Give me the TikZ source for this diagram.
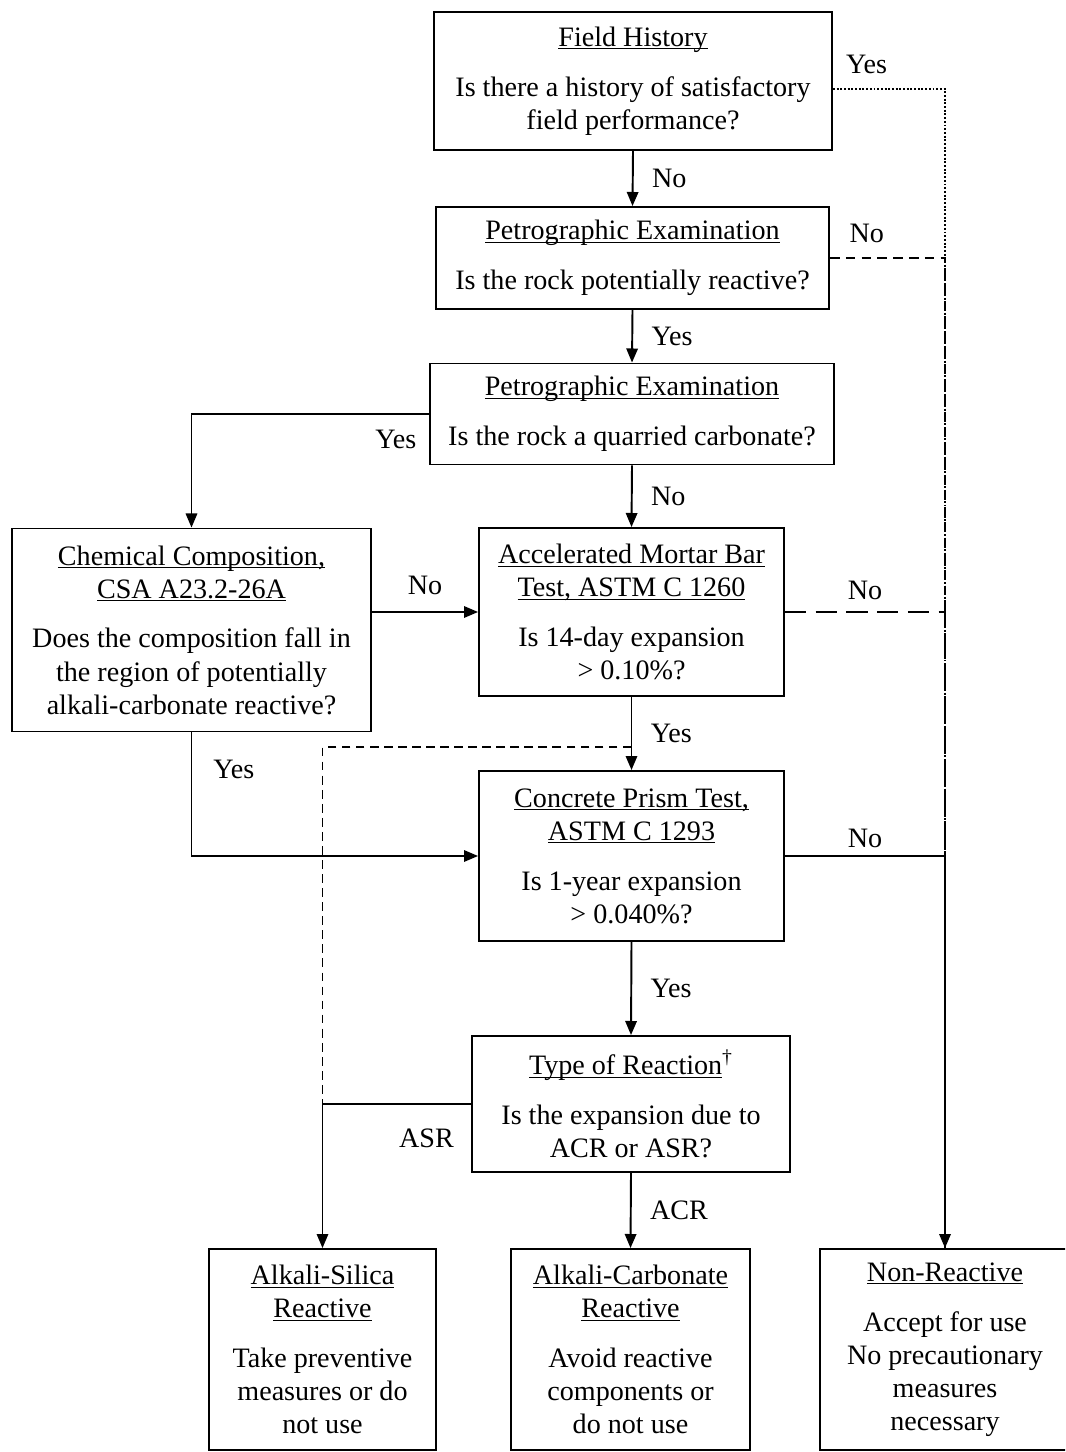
\documentclass[tikz,border=0pt]{standalone}
\usepackage{fontspec}
\setmainfont{Liberation Serif}
\usetikzlibrary{arrows.meta}
\usetikzlibrary{calc,positioning}
\newcommand\hdline[1]{$\underline{\smash{\hbox{#1}}}\vphantom{\hbox{#1}}$}

\begin{document}
\begin{tikzpicture}[x=0.02cm,y=-0.02cm]
  \tikzset{box/.style = {shape=rectangle,draw,line width=1.1pt,align=center,inner sep=0pt,font=\fontsize{16}{18.8}\selectfont}}
  \tikzset{lbl/.style = {font=\fontsize{16}{18.8}\selectfont}}
  \tikzset{tipA/.tip={Triangle[length=8pt,width=6.5pt]}}
  \tikzset{flow/.style = {line width=1.1pt,-tipA}}
  \tikzset{rail/.style = {line width=1.1pt}}

  \clip (0,0) rectangle (1065,1452);

	\node[box,minimum width=7.96cm,minimum height=2.76cm] (fh) at (633,81) {\hdline{Field History}\\[9.6pt]Is there a history of satisfactory\\field performance?};
	\node[box,minimum width=7.86cm,minimum height=2.04cm] (petroA) at (632.5,258) {\hdline{Petrographic Examination}\\[9.6pt]Is the rock potentially reactive?};
	\node[box,minimum width=8.08cm,minimum height=2.02cm] (petroB) at (632,414) {\hdline{Petrographic Examination}\\[9.6pt]Is the rock a quarried carbonate?};
	\node[box,minimum width=7.18cm,minimum height=4.06cm] (chem) at (191.5,630) {\hdline{Chemical Composition,}\\\hdline{CSA A23.2-26A}\\[9.6pt]Does the composition fall in\\the region of potentially\\alkali-carbonate reactive?};
	\node[box,minimum width=6.1cm,minimum height=3.36cm] (ambt) at (631.5,612) {\hdline{Accelerated Mortar Bar}\\\hdline{Test, ASTM C 1260}\\[9.6pt]Is 14-day expansion\\> 0.10\%?};
	\node[box,minimum width=6.1cm,minimum height=3.4cm] (cpt) at (631.5,856) {\hdline{Concrete Prism Test,}\\\hdline{ASTM C 1293}\\[9.6pt]Is 1-year expansion\\> 0.040\%?};
	\node[box,minimum width=6.36cm,minimum height=2.72cm] (rtype) at (631,1104) {\hdline{Type of Reaction}\textsuperscript{\dag}\\[9.6pt]Is the expansion due to\\ACR or ASR?};
	\node[box,minimum width=4.54cm,minimum height=4.02cm] (asr) at (322.5,1349.5) {\hdline{Alkali-Silica}\\\hdline{Reactive}\\[9.6pt]Take preventive\\measures or do\\not use};
	\node[box,minimum width=4.78cm,minimum height=4.02cm] (acr) at (630.5,1349.5) {\hdline{Alkali-Carbonate}\\\hdline{Reactive}\\[9.6pt]Avoid reactive\\components or\\do not use};
	\node[box,minimum width=5.0cm,minimum height=4.02cm] (nonr) at (945,1349.5) {\hdline{Non-Reactive}\\[9.6pt]Accept for use\\No precautionary\\measures\\necessary};

	\coordinate (tap) at ($(ambt.south)!0.69!(cpt.north)$);
	\coordinate (asrbend) at (asr.north |- rtype.west);

    % main column
    \foreach \from/\to/\txt in {fh/petroA/No, petroA/petroB/Yes, petroB/ambt/No, ambt/cpt/Yes, cpt/rtype/Yes, rtype/acr/ACR}
    \path[flow] (\from.south) edge node[lbl,midway,right=0.25cm]{\txt} (\to.north);

    % right-hand rail to non-reactive
    \draw[rail,densely dotted,line width=1.2pt] ($(fh.east)+(0,8)$) -| node[lbl,pos=0.15,above=5pt]{Yes} (nonr.north);
    \draw[rail,dash pattern=on 5.5pt off 3.5pt] (petroA.east) -| node[lbl,pos=0.16,above=4.5pt]{No} (nonr.north);
    \draw[rail,dash pattern=on 12pt off 5.5pt] (ambt.east) -| node[lbl,pos=0.25,above=3pt]{No} (nonr.north);
    \draw[flow] (cpt.east) -| node[lbl,pos=0.25,above=1pt]{No} (nonr.north);

    % left-hand branches
    \draw[flow] (petroB.west) -| node[lbl,pos=0.07,below=5.5pt]{Yes} (chem.north);
    \draw[flow] (chem.east |- ambt.west) -- node[lbl,midway,above=6pt]{No} (ambt.west);
    \draw[flow] (chem.south) |- node[lbl,pos=0.15,right=0.3cm]{Yes} (cpt.west);
    \draw[rail,dash pattern=on 5pt off 3pt] (tap) -| (asrbend);
    \draw[flow] (rtype.west) -| node[lbl,pos=0.15,below=10.5pt]{ASR} (asr.north);

\end{tikzpicture}
\end{document}
